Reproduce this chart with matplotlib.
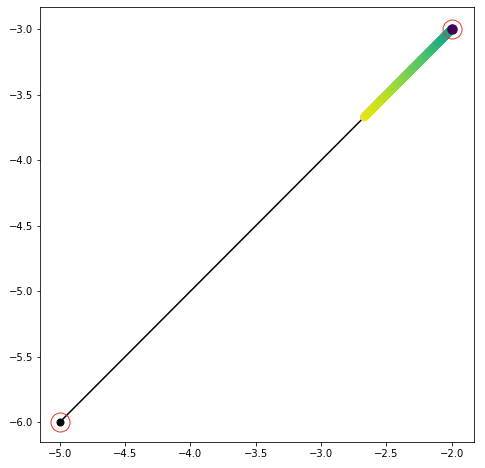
import numpy as np
import matplotlib.pyplot as plt
from matplotlib.collections import LineCollection

# endpoints of the straight line
line_x = [-5.0, -2.0]
line_y = [-6.0, -3.0]

# highlighted path near the upper end (start -> end)
path_x = [-2.67, -2.0]
path_y = [-3.67, -3.0]
# colour value (viridis) read at fractions along the path
stop_frac = [0.0, 0.25, 0.5, 0.75, 0.95, 1.0]
stop_val = [0.97, 0.9, 0.8, 0.7, 0.58, 0.55]

# last point of the path
final_x = [-2.0]
final_y = [-3.0]

fig = plt.figure(figsize=(485 / 72, 468 / 72), dpi=72)
ax = fig.add_axes([40 / 485, 26 / 468, 434 / 485, 435 / 468])

ax.plot(line_x, line_y, color="black", lw=1.5, zorder=1)
ax.plot(line_x, line_y, "o", color="black", ms=7, zorder=2)

# gradient coloured thick segment
t = np.linspace(0, 1, 200)
px = path_x[0] + (path_x[1] - path_x[0]) * t
py = path_y[0] + (path_y[1] - path_y[0]) * t
pts = np.column_stack([px, py]).reshape(-1, 1, 2)
segs = np.concatenate([pts[:-1], pts[1:]], axis=1)
lc = LineCollection(segs, cmap="viridis", linewidths=8.5, capstyle="round", zorder=3)
lc.set_array(np.interp(t[:-1], stop_frac, stop_val))
lc.set_clim(0, 1)
ax.add_collection(lc)

ax.scatter(final_x, final_y, s=90, color=plt.cm.viridis(0.0), zorder=4)

# red rings around the endpoints
ax.plot(line_x, line_y, "o", mfc="none", mec="#e8392b", ms=19, mew=1, zorder=5)

ax.set_xlim(-5.15, -1.83)
ax.set_ylim(-6.15, -2.83)
ax.set_xticks(np.arange(-5.0, -1.9, 0.5))
ax.set_yticks(np.arange(-6.0, -2.9, 0.5))

plt.savefig("out.png", dpi=72)
